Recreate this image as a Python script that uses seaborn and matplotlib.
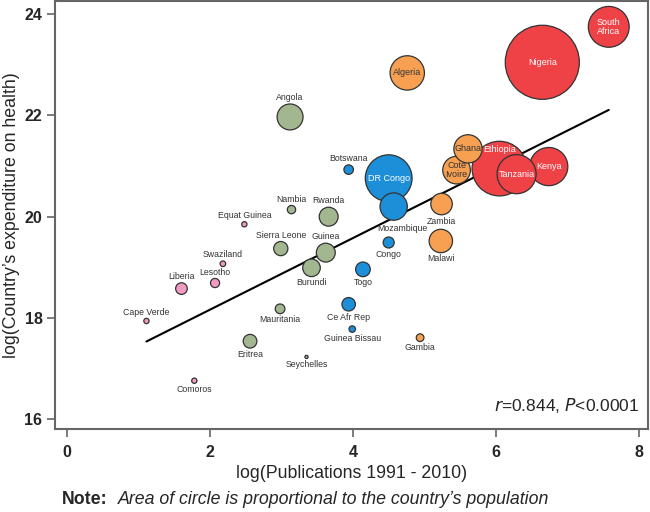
import numpy as np
import pandas as pd
import matplotlib
matplotlib.use("Agg")
import matplotlib.pyplot as plt
import seaborn as sns

# values
countries = ["Nigeria", "Ethiopia", "DR Congo", "South\nAfrica", "Kenya", "Tanzania",
             "Algeria", "Mozambique", "Cote\nIvoire", "Ghana", "Angola", "Malawi",
             "Zambia", "Rwanda", "Guinea", "Burundi", "Togo", "Sierra Leone", "Eritrea",
             "Ce Afr Rep", "Liberia", "Congo", "Mauritania", "Nambia", "Botswana",
             "Lesotho", "Gambia", "Guinea Bissau", "Swaziland", "Equat Guinea",
             "Comoros", "Cape Verde", "Seychelles"]
region = ["red", "red", "blue", "red", "red", "red",
          "orange", "blue", "orange", "orange", "green", "orange",
          "orange", "green", "green", "green", "blue", "green", "green",
          "blue", "pink", "blue", "green", "green", "blue",
          "pink", "orange", "blue", "pink", "pink",
          "pink", "pink", "green"]
log_pubs = [6.65, 6.05, 4.50, 7.58, 6.74, 6.29,
            4.76, 4.57, 5.45, 5.61, 3.12, 5.23,
            5.24, 3.66, 3.62, 3.42, 4.14, 2.99, 2.56,
            3.94, 1.60, 4.50, 2.98, 3.14, 3.94,
            2.07, 4.94, 3.99, 2.18, 2.48,
            1.78, 1.11, 3.35]
log_health = [23.05, 20.95, 20.76, 23.75, 20.99, 20.84,
              22.84, 20.20, 20.92, 21.34, 21.97, 19.52,
              20.25, 20.00, 19.29, 18.99, 18.96, 19.37, 17.54,
              18.27, 18.58, 19.49, 18.18, 20.14, 20.93,
              18.69, 17.61, 17.78, 19.07, 19.85,
              16.76, 17.94, 17.23]
population = [158, 86, 63, 48, 42, 44,
              34, 21.5, 22, 23, 19.4, 15.8,
              13.3, 10.3, 10.3, 8.9, 6.2, 5.8, 5.4,
              5.2, 3.9, 3.5, 2.7, 2.0, 2.6,
              2.4, 1.7, 1.2, 0.9, 0.8,
              0.8, 0.8, 0.3]
label_pos = ["in", "in", "in", "in", "in", "in",
             "in", "below", "in", "in", "above", "below",
             "below", "above", "above", "below", "below", "above", "below",
             "below", "above", "below", "below", "above", "above",
             "above", "below", "below", "above", "above",
             "below", "above", "below"]

# fitted line: y = a + b*x
fit_intercept = 16.75
fit_slope = 0.707

palette = {"red": "#ee4247", "blue": "#1c8fd8", "orange": "#f7a052",
           "green": "#a2b78f", "pink": "#f29ac2"}

df = pd.DataFrame({"country": countries, "region": region, "x": log_pubs,
                   "y": log_health, "pop": population})

sns.set_style("white")
plt.rcParams["font.family"] = ["Liberation Sans", "DejaVu Sans"]

fig = plt.figure(figsize=(6.5, 5.12), dpi=100)
ax = fig.add_axes([0.0846, 0.1615, 0.9124, 0.8365])

k = 18.0  # pt^2 per million people
xs = np.array([df["x"].min(), df["x"].max()])
sns.lineplot(x=xs, y=fit_intercept + fit_slope * xs, color="black", lw=1.5, ax=ax)
sns.scatterplot(data=df, x="x", y="y", hue="region", palette=palette,
                size="pop", sizes=(0, k * 160), size_norm=(0, 160),
                edgecolor="#333333", linewidth=0.9, legend=False, ax=ax, zorder=3)

# a few labels are nudged like in the original
nudge = {"Ethiopia": (0, 13.5), "Mozambique": (6, 1.5)}

for i, row in df.iterrows():
    s = k * row["pop"]
    r_pt = np.sqrt(s) / 2
    pos = label_pos[i]
    dx, dy = nudge.get(row["country"], (0, 0))
    if pos == "in":
        col = "white" if row["region"] in ("red", "blue") else "#333333"
        ax.annotate(row["country"], (row["x"], row["y"]), xytext=(dx, dy),
                    textcoords="offset points", color=col, fontsize=6.5,
                    ha="center", va="center", linespacing=1.0, zorder=5)
    else:
        off = r_pt + 4.5 if pos == "above" else -(r_pt + 4.5)
        ax.annotate(row["country"], (row["x"], row["y"]), xytext=(dx, off - dy),
                    textcoords="offset points", ha="center", va="center",
                    fontsize=6.3, color="#333333", zorder=5)

ax.set_xlim(-0.17, 8.13)
ax.set_ylim(15.80, 24.26)
ax.set_xticks([0, 2, 4, 6, 8])
ax.set_yticks([16, 18, 20, 22, 24])
ax.tick_params(direction="out", length=6, width=1.2, color="#666666",
               labelsize=11.5, left=True, bottom=True)
ax.tick_params(axis="x", pad=5)
ax.tick_params(axis="y", pad=3)
for lab in ax.get_xticklabels() + ax.get_yticklabels():
    lab.set_fontweight("bold")
for sp in ax.spines.values():
    sp.set_color("#666666")
    sp.set_linewidth(1.5)

ax.set_xlabel("log(Publications 1991 - 2010)", fontsize=12.8, labelpad=4)
ax.set_ylabel("log(Country\u2019s expenditure on health)", fontsize=12.8, labelpad=4)
ax.yaxis.set_label_coords(-0.059, 0.5)

ax.text(0.985, 0.055, r"$\it{r}$=0.844, $\it{P}$<0.0001", transform=ax.transAxes,
        ha="right", va="center", fontsize=12.5)

fig.text(62 / 650, 1 - 499 / 512, "Note:", fontsize=12.8, fontweight="bold",
         ha="left", va="center")
fig.text(118 / 650, 1 - 499 / 512, "Area of circle is proportional to the country\u2019s population",
         fontsize=12.8, style="italic", ha="left", va="center")

fig.savefig("out.png", dpi=100)
